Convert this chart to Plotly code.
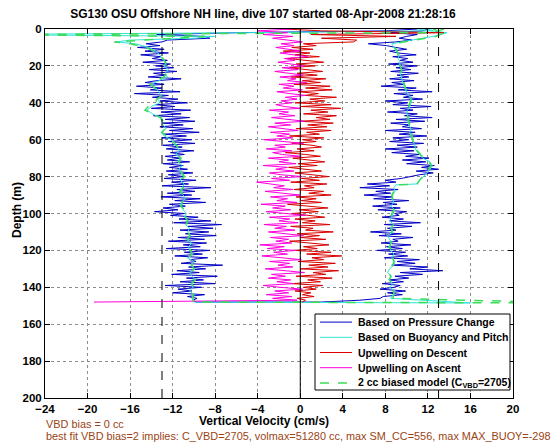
import plotly.graph_objects as go

# ---------------- data ----------------
X_TICKS = [-24, -20, -16, -12, -8, -4, 0, 4, 8, 12, 16, 20]
Y_TICKS = [0, 20, 40, 60, 80, 100, 120, 140, 160, 180, 200]
REF_DASHED = [-13, 13]
REF_ZERO = [0]

# descent samples (depth, m)
DEPTH_DOWN = [
    0, 1, 2, 3, 4, 5, 6, 7, 8, 9,
    10, 11, 12, 13, 14, 15, 16, 17, 18, 19,
    20, 21, 22, 23, 24, 25, 26, 27, 28, 29,
    30, 31, 32, 33, 34, 35, 36, 37, 38, 39,
    40, 41, 42, 43, 44, 45, 46, 47, 48, 49,
    50, 51, 52, 53, 54, 55, 56, 57, 58, 59,
    60, 61, 62, 63, 64, 65, 66, 67, 68, 69,
    70, 71, 72, 73, 74, 75, 76, 77, 78, 79,
    80, 81, 82, 83, 84, 85, 86, 87, 88, 89,
    90, 91, 92, 93, 94, 95, 96, 97, 98, 99,
    100, 101, 102, 103, 104, 105, 106, 107, 108, 109,
    110, 111, 112, 113, 114, 115, 116, 117, 118, 119,
    120, 121, 122, 123, 124, 125, 126, 127, 128, 129,
    130, 131, 132, 133, 134, 135, 136, 137, 138, 139,
    140, 141, 142, 143, 144, 145, 146, 147, 148]

# ascent samples (depth, m)
DEPTH_UP = [
    148, 147, 146, 145, 144, 143, 142, 141, 140, 139,
    138, 137, 136, 135, 134, 133, 132, 131, 130, 129,
    128, 127, 126, 125, 124, 123, 122, 121, 120, 119,
    118, 117, 116, 115, 114, 113, 112, 111, 110, 109,
    108, 107, 106, 105, 104, 103, 102, 101, 100, 99,
    98, 97, 96, 95, 94, 93, 92, 91, 90, 89,
    88, 87, 86, 85, 84, 83, 82, 81, 80, 79,
    78, 77, 76, 75, 74, 73, 72, 71, 70, 69,
    68, 67, 66, 65, 64, 63, 62, 61, 60, 59,
    58, 57, 56, 55, 54, 53, 52, 51, 50, 49,
    48, 47, 46, 45, 44, 43, 42, 41, 40, 39,
    38, 37, 36, 35, 34, 33, 32, 31, 30, 29,
    28, 27, 26, 25, 24, 23, 22, 21, 20, 19,
    18, 17, 16, 15, 14, 13, 12, 11, 10, 9,
    8, 7, 6, 5, 4, 3, 2, 1, 0]

# Based on Pressure Change (cm/s)
PRESS_DOWN = [
    11, 8, -6, -13.5, -9, -8.5, -12.5, -13, -14.5, -13.2,
    -15.3, -12.8, -14.6, -12.4, -15.0, -13.1, -13.9, -12.5, -14.8, -12.2,
    -13.6, -11.9, -14.2, -11.6, -13.8, -12.6, -14.3, -11.2, -13.5, -14.6,
    -12.8, -15.4, -13.0, -14.1, -11.3, -15.6, -12.4, -13.9, -11.5, -13.2,
    -10.6, -13.6, -11.8, -14.0, -10.3, -13.1, -11.2, -13.8, -10.4, -12.7,
    -9.9, -12.9, -11.0, -13.2, -10.1, -12.3, -9.5, -12.8, -10.7, -13.0,
    -10.2, -12.4, -9.9, -12.9, -11.1, -12.6, -10.0, -12.2, -10.9, -12.7,
    -11.3, -12.5, -10.4, -12.9, -11.0, -12.3, -10.6, -12.6, -10.1, -12.4,
    -10.9, -12.8, -9.8, -12.1, -10.5, -13.0, -8.4, -11.6, -9.9, -12.5,
    -10.2, -13.1, -9.4, -11.8, -8.9, -12.3, -10.8, -12.9, -11.5, -13.7,
    -10.9, -12.2, -9.6, -11.4, -8.4, -11.9, -7.4, -10.6, -8.2, -11.3,
    -8.6, -10.8, -7.9, -11.5, -9.0, -12.4, -8.8, -11.0, -9.4, -12.6,
    -8.5, -10.9, -9.2, -11.8, -8.7, -10.4, -9.8, -11.2, -7.3, -10.5,
    -8.9, -11.6, -9.5, -12.1, -7.8, -10.7, -9.1, -11.3, -8.0, -12.7,
    -9.3, -11.5, -10.2, -12.0, -9.0, -10.6, -9.7, -10.1, -9.8]
PRESS_UP = [
    2.0, 5.6, 7.5, 7.8, 9.6, 8.2, 9.9, 7.5, 8.8, 9.4,
    7.7, 9.7, 8.4, 10.2, 8.9, 11.5, 9.4, 13.4, 10.3, 12.0,
    8.6, 10.8, 9.1, 11.2, 7.9, 10.1, 8.3, 9.9, 7.2, 9.6,
    8.1, 10.4, 7.6, 9.2, 8.7, 10.6, 7.4, 9.5, 6.6, 9.0,
    8.2, 10.5, 7.9, 11.3, 8.4, 9.7, 7.7, 9.3, 8.9, 10.0,
    7.3, 9.4, 6.8, 9.1, 7.8, 10.2, 6.9, 8.7, 6.0, 8.5,
    7.1, 9.2, 5.6, 8.4, 6.3, 9.0, 8.0, 9.5, 10.3, 11.2,
    12.5, 10.9, 13.0, 11.4, 12.6, 10.0, 11.8, 9.6, 12.1, 9.9,
    11.2, 8.6, 10.7, 8.0, 11.0, 9.1, 11.6, 8.4, 10.2, 8.7,
    11.9, 9.3, 10.8, 8.0, 11.4, 9.6, 10.3, 8.5, 11.7, 9.0,
    12.4, 9.8, 11.0, 8.2, 10.6, 9.4, 12.3, 8.7, 10.1, 8.0,
    11.5, 9.7, 10.6, 8.8, 12.4, 9.2, 10.9, 7.6, 9.8, 8.6,
    10.7, 8.4, 10.2, 9.1, 11.1, 8.5, 10.4, 9.0, 11.0, 8.3,
    10.6, 9.4, 10.1, 8.7, 10.9, 9.2, 8.4, 10.0, 9.0, 8.1,
    6.4, 9.0, 10.5, 9.3, 10.0, 11.0, 8.5, 11.5, 12.0]

# Upwelling on Descent (cm/s)
UPW_DOWN = [
    -1.5, 2, 13.5, 1.0, 9.0, 2.0, 5.3, 5.0, 0.3, 1.5,
    -0.8, 1.2, -1.6, 0.9, -0.5, 1.8, -1.2, 0.6, 2.2, -0.4,
    1.4, -1.0, 0.8, 2.1, -0.3, 1.6, -0.9, 2.4, 0.2, 1.9,
    -0.6, 2.8, 0.5, 3.0, -0.2, 1.7, 0.4, 3.4, 0.9, 2.3,
    -0.5, 2.9, 0.1, 3.8, 1.0, 2.6, 0.3, 3.4, 1.5, 2.8,
    0.0, 3.1, 0.7, 2.5, -0.4, 2.9, 0.6, 1.8, -1.0, 2.2,
    0.2, 1.5, -0.8, 1.1, 2.0, -0.3, 1.3, -1.4, 0.5, 1.9,
    -0.7, 0.9, 2.3, -0.2, 1.6, -1.1, 0.7, 2.0, -0.5, 1.2,
    2.7, 0.1, 1.8, -0.9, 2.5, 0.4, 1.3, -0.6, 2.2, 0.8,
    2.9, -0.4, 1.5, 0.1, 2.0, -1.2, 1.1, 2.6, -0.1, 1.7,
    -0.8, 0.9, 2.3, -0.5, 1.4, 0.2, 2.8, -0.9, 1.2, 0.5,
    3.1, -0.3, 1.8, 0.0, 2.4, -1.0, 1.0, 2.7, 0.3, 1.6,
    -0.6, 2.9, 0.6, 3.9, 1.1, 2.2, -0.2, 3.3, 0.8, 2.6,
    0.0, 3.6, 1.2, 2.4, -0.4, 3.0, 0.7, 1.9, -0.8, 2.1,
    0.3, 1.5, -0.5, 1.0, 0.2, 1.3, -0.3, 0.5, 0.2]

# Upwelling on Ascent (cm/s)
UPW_UP = [
    -19.4, -0.3, -2.6, -0.8, -3.2, -1.1, -2.4, 0.2, -1.9, -3.5,
    -0.6, -2.2, -0.9, -3.0, -1.4, -2.7, 0.4, -1.6, -3.3, -0.7,
    -2.1, -1.0, -2.9, 0.1, -1.8, -3.6, -1.2, -2.5, -0.4, -3.1,
    -1.5, -3.8, -0.8, -2.3, -1.1, -2.8, 0.3, -1.7, -3.0, -0.5,
    -2.4, -1.3, -3.4, -0.2, -2.0, -1.0, -2.9, 0.5, -1.6, -3.2,
    -0.9, -2.6, -1.4, -3.7, -0.3, -2.2, -1.2, -2.8, 0.0, -1.9,
    -3.3, -0.7, -2.5, -1.5, -3.1, -4.1, -1.0, -2.7, 0.2, -1.8,
    -2.9, -0.6, -2.3, -1.2, -3.5, -0.4, -2.0, -1.1, -3.0, 0.1,
    -1.7, -2.6, -0.8, -3.2, -1.4, -2.4, 0.3, -1.9, -3.4, -0.7,
    -2.2, -1.0, -2.8, -0.2, -1.6, -3.0, -0.9, -2.4, 0.4, -1.3,
    -2.7, -0.5, -2.0, -1.1, -2.9, 0.0, -1.5, -2.3, -0.8, -1.8,
    -0.3, -1.4, 0.5, -1.0, -2.2, 0.2, -1.6, -0.6, -2.0, 0.6,
    -1.2, -0.4, -1.9, 0.3, -1.3, -2.4, -0.2, -1.7, 0.4, -1.1,
    -2.1, -0.5, -1.5, 0.7, -0.9, -1.9, 0.1, -1.2, -2.3, -0.6,
    -1.8, 0.2, -1.4, -2.6, -0.7, -3.5, -1.2, -4.0, -0.8]

# smoother series: buoyancy/pitch model and biased model
DEPTH_MODEL_DOWN = [
    0, 1, 2, 3, 4, 5, 6, 7, 8,
    10, 12, 14, 16, 18, 20, 22, 24, 26, 28,
    30, 32, 34, 36, 38, 40, 42, 44, 46, 48,
    50, 52, 54, 56, 58, 60, 62, 64, 66, 68,
    70, 72, 74, 76, 78, 80, 82, 84, 86, 88,
    90, 92, 94, 96, 98, 100, 102, 104, 106, 108,
    110, 112, 114, 116, 118, 120, 122, 124, 126, 128,
    130, 132, 134, 136, 138, 140, 142, 144, 146, 148]
DEPTH_MODEL_UP = [
    148.5,
    146, 144, 142, 140, 138, 136, 134, 132, 130, 128,
    126, 124, 122, 120, 118, 116, 114, 112, 110, 108,
    106, 104, 102, 100, 98, 96, 94, 92, 90, 88,
    86,
    84.5,
    84, 82, 80, 78, 76, 74, 72, 70, 68, 66,
    64, 62, 60, 58, 56, 54, 52, 50, 48, 46,
    44, 42, 40, 38, 36, 34, 32, 30, 28, 26,
    24, 22, 20, 18, 16, 14, 12, 10, 8, 6,
    4, 2, 0]

BUOY_DOWN = [
    12, 12.5, -5, -30, -8, -10, -16, -17.3, -15.5,
    -14.2, -13.6, -13.2, -13.0, -12.6, -12.8, -12.4, -12.7, -12.5, -13.3,
    -14.0, -13.6, -13.3, -13.1, -13.4, -13.2, -14.0, -14.4, -13.9, -13.2,
    -13.0, -12.9, -12.6, -13.1, -12.8, -12.1, -11.9, -11.6, -11.4, -11.7,
    -11.3, -11.5, -11.1, -11.4, -11.2, -11.0, -11.3, -10.9, -11.1, -11.4,
    -11.0, -10.8, -11.2, -11.3, -11.0, -10.7, -10.9, -10.5, -10.8, -10.4,
    -10.6, -10.3, -10.7, -10.2, -10.5, -10.4, -10.1, -10.6, -10.0, -10.3,
    -9.9, -10.4, -10.2, -9.8, -10.3, -10.1, -10.4, -10.0, -10.2, -10.0]
BUOY_UP = [
    16,
    8.5, 8.7, 8.9, 8.4, 8.7, 8.3, 8.6, 8.2, 8.4, 8.8,
    8.9, 8.6, 8.8, 8.5, 8.3, 8.6, 8.4, 8.2, 8.7, 8.5,
    8.8, 8.4, 8.6, 8.7, 8.9, 8.5, 8.8, 8.6, 8.7, 8.9,
    8.8,
    9.0,
    10.9, 11.3, 11.6, 11.9, 12.2, 12.4, 12.2, 11.5, 11.2, 10.9,
    10.8, 10.7, 10.5, 10.4, 10.3, 10.4, 10.2, 10.1, 10.2, 10.0,
    10.1, 10.3, 10.4, 10.5, 10.2, 10.0, 9.8, 9.7, 9.6, 9.5,
    9.4, 9.6, 9.3, 9.4, 9.2, 9.3, 9.0, 8.8, 8.6, 10.5,
    12.5, 13.8, 11]

BIASED_DOWN = [
    13.5, 13, 12, -30, -9, -12, -15.5, -17.5, -16,
    -14.5, -13.8, -13.3, -12.9, -12.7, -12.6, -12.5, -12.6, -12.8, -13.5,
    -14.1, -13.7, -13.4, -13.0, -13.5, -13.6, -14.3, -14.6, -13.8, -13.1,
    -12.9, -12.8, -12.7, -13.0, -12.6, -12.0, -11.8, -11.5, -11.5, -11.6,
    -11.2, -11.4, -11.2, -11.3, -11.1, -10.9, -11.2, -11.0, -11.0, -11.3,
    -10.9, -10.9, -11.1, -11.2, -10.9, -10.6, -10.8, -10.6, -10.7, -10.5,
    -10.5, -10.4, -10.6, -10.3, -10.4, -10.3, -10.2, -10.5, -10.1, -10.2,
    -10.0, -10.3, -10.1, -9.9, -10.2, -10.0, -10.3, -10.1, -10.1, -10.0]
BIASED_UP = [
    26,
    8.7, 8.8, 8.8, 8.5, 8.6, 8.4, 8.5, 8.3, 8.5, 8.7,
    8.8, 8.7, 8.7, 8.6, 8.4, 8.5, 8.5, 8.3, 8.6, 8.6,
    8.7, 8.5, 8.5, 8.6, 8.8, 8.6, 8.7, 8.7, 8.6, 8.8,
    8.9,
    9.2,
    11.0, 11.2, 11.5, 11.8, 12.1, 12.3, 12.1, 11.6, 11.3, 11.0,
    10.9, 10.6, 10.6, 10.5, 10.4, 10.3, 10.3, 10.2, 10.1, 10.1,
    10.2, 10.2, 10.3, 10.4, 10.3, 10.1, 9.9, 9.8, 9.7, 9.6,
    9.5, 9.5, 9.4, 9.3, 9.3, 9.2, 9.1, 8.9, 8.8, 10.8,
    12.8, 13.5, 12.5]

SERIES_NAMES = [
    "Based on Pressure Change",
    "Based on Buoyancy and Pitch",
    "Upwelling on Descent",
    "Upwelling on Ascent",
    "2 cc biased model (C<sub>VBD</sub>=2705)",
]
TITLE = "SG130 OSU Offshore NH line, dive 107 started 08-Apr-2008 21:28:16"
NOTE1 = "VBD bias = 0 cc"
NOTE2 = ("best fit VBD bias=2 implies: C_VBD=2705, volmax=51280 cc, "
         "max SM_CC=556, max MAX_BUOY=-298")

# ---------------- styling ----------------
W, H = 554, 442
PL, PR, PT, PB = 45, 513, 29, 398
FONT = "Liberation Sans, Arial, Helvetica, sans-serif"
STYLES = [
    dict(color="#0000c4", width=1),
    dict(color="#2ee6d8", width=1),
    dict(color="#d80000", width=1),
    dict(color="#ff00dd", width=1),
    dict(color="#3cdc5a", width=1.5, dash="dash"),
]


def fx(p):
    return (p - PL) / (PR - PL)


def fy(p):
    return (PB - p) / (PB - PT)


fig = go.Figure()
series = [
    (PRESS_DOWN + PRESS_UP, DEPTH_DOWN + DEPTH_UP),
    (BUOY_DOWN + BUOY_UP, DEPTH_MODEL_DOWN + DEPTH_MODEL_UP),
    (UPW_DOWN, DEPTH_DOWN),
    (UPW_UP, DEPTH_UP),
    (BIASED_DOWN + BIASED_UP, DEPTH_MODEL_DOWN + DEPTH_MODEL_UP),
]
for (xs, ys), name, st in zip(series, SERIES_NAMES, STYLES):
    fig.add_trace(go.Scatter(x=xs, y=ys, mode="lines", name=name,
                             line=st, showlegend=False))

for v in REF_DASHED:
    fig.add_trace(go.Scatter(x=[v, v], y=[Y_TICKS[0], Y_TICKS[-1]], mode="lines",
                             showlegend=False, hoverinfo="skip",
                             line=dict(color="black", width=1, dash="dash")))
for v in REF_ZERO:
    fig.add_trace(go.Scatter(x=[v, v], y=[Y_TICKS[0], Y_TICKS[-1]], mode="lines",
                             showlegend=False, hoverinfo="skip",
                             line=dict(color="black", width=1)))

axis_common = dict(
    showline=True, linecolor="black", linewidth=1, mirror="ticks",
    ticks="inside", ticklen=5, tickcolor="black", tickwidth=1,
    showgrid=True, gridcolor="#8c8c8c", gridwidth=1, griddash="dot",
    zeroline=False,
    tickfont=dict(family=FONT, size=11.5, color="black", weight="bold"),
)

fig.update_layout(
    width=W, height=H,
    margin=dict(l=PL, r=W - PR, t=PT, b=H - PB),
    paper_bgcolor="white", plot_bgcolor="white",
    font=dict(family=FONT, color="black"),
    title=dict(text=TITLE, x=263 / W, xref="container", xanchor="center",
               y=1 - 14 / H, yref="container", yanchor="middle",
               font=dict(family=FONT, size=12, color="black", weight="bold")),
    xaxis=dict(range=[X_TICKS[0], X_TICKS[-1]], tickvals=X_TICKS,
               ticktext=[str(t).replace("-", "\u2212") for t in X_TICKS],
               **axis_common),
    yaxis=dict(range=[Y_TICKS[-1], Y_TICKS[0]], tickvals=Y_TICKS, **axis_common),
    showlegend=False,
    hovermode=False,
)

# ---- legend box drawn by hand (MATLAB-style compact rows) ----
LEG_L, LEG_R, LEG_T, LEG_B = 315, 510, 314, 390
fig.add_shape(type="rect", xref="paper", yref="paper",
              x0=fx(LEG_L), x1=fx(LEG_R), y0=fy(LEG_B), y1=fy(LEG_T),
              fillcolor="white", line=dict(color="black", width=1), layer="above")
row_h = (LEG_B - LEG_T) / len(SERIES_NAMES)
for i, (name, st) in enumerate(zip(SERIES_NAMES, STYLES)):
    yc = LEG_T + row_h * (i + 0.5) + 0.5
    fig.add_shape(type="line", xref="paper", yref="paper",
                  x0=fx(320), x1=fx(352), y0=fy(yc), y1=fy(yc),
                  line=st, layer="above")
    fig.add_annotation(text=name, xref="paper", yref="paper",
                       x=fx(356), y=fy(yc), showarrow=False,
                       xanchor="left", yanchor="middle",
                       font=dict(family=FONT, size=10.5, color="black", weight="bold"))

fig.add_annotation(text="Vertical Velocity (cm/s)", xref="paper", yref="paper",
                   x=fx(264), y=fy(421), showarrow=False,
                   xanchor="center", yanchor="middle",
                   font=dict(family=FONT, size=12, color="black", weight="bold"))
fig.add_annotation(text="Depth (m)", xref="paper", yref="paper",
                   x=fx(17), y=fy(210), showarrow=False, textangle=-90,
                   xanchor="center", yanchor="middle",
                   font=dict(family=FONT, size=12, color="black", weight="bold"))
fig.add_annotation(text=NOTE1, xref="paper", yref="paper",
                   x=fx(44), y=fy(424), showarrow=False,
                   xanchor="left", yanchor="middle",
                   font=dict(family=FONT, size=10.9, color="#9a4414"))
fig.add_annotation(text=NOTE2, xref="paper", yref="paper",
                   x=fx(44), y=fy(436), showarrow=False,
                   xanchor="left", yanchor="middle",
                   font=dict(family=FONT, size=10.9, color="#9a4414"))

fig.write_html("out.html",
               config={"displayModeBar": False, "staticPlot": True},
               post_script="document.body.style.margin='0';"
                           "document.body.style.padding='0';"
                           "document.documentElement.style.overflow='hidden';")
